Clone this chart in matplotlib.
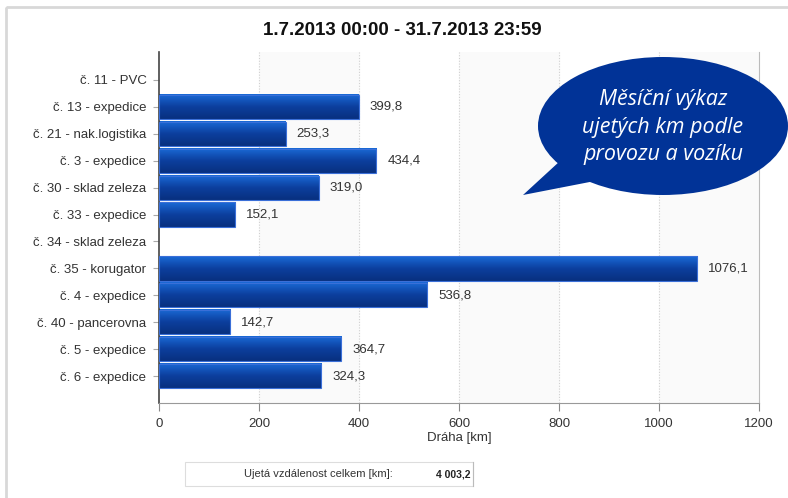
import matplotlib as mpl
import matplotlib.pyplot as plt
import numpy as np
from matplotlib.patches import Ellipse, Polygon, Rectangle

categories = [
    "č. 11 - PVC", "č. 13 - expedice", "č. 21 - nak.logistika", "č. 3 - expedice",
    "č. 30 - sklad zeleza", "č. 33 - expedice", "č. 34 - sklad zeleza",
    "č. 35 - korugator", "č. 4 - expedice", "č. 40 - pancerovna",
    "č. 5 - expedice", "č. 6 - expedice",
]
values = [0, 399.8, 253.3, 434.4, 319.0, 152.1, 0, 1076.1, 536.8, 142.7, 364.7, 324.3]
x_ticks = [0, 200, 400, 600, 800, 1000, 1200]
title = "1.7.2013 00:00 - 31.7.2013 23:59"
total_label = "Ujetá vzdálenost celkem [km]:"
total_value = "4 003,2"

mpl.rcParams["font.family"] = ["Liberation Sans", "DejaVu Sans"]

fig = plt.figure(figsize=(7.88, 4.98), dpi=100)
fig.patch.set_facecolor("white")

# outer frame
bg = fig.add_axes([0, 0, 1, 1], zorder=0)
bg.set_xlim(0, 788)
bg.set_ylim(498, 0)
bg.axis("off")
bg.add_patch(Rectangle((6, 7), 800, 500, fill=False, ec="#d8d8d8", lw=2))

ax = fig.add_axes([159 / 788, 1 - 403 / 498, 600 / 788, 351 / 498], zorder=1)
ax.set_facecolor("white")

# alternating light bands
for i in range(1, len(x_ticks) - 1, 2):
    ax.axvspan(x_ticks[i], x_ticks[i + 1], color="#fafafa", zorder=0)
for t in x_ticks[1:-1]:
    ax.axvline(t, color="#d0d0d0", lw=0.8, ls=(0, (1, 1.5)), zorder=0.5)

# gradient bars
grad = np.linspace(0, 1, 64).reshape(-1, 1)
cmap = mpl.colors.LinearSegmentedColormap.from_list("bar", ["#1a6ad6", "#0c3f9e", "#08307f"])
h = 0.9
for i, v in enumerate(values):
    if v <= 0:
        continue
    ax.imshow(grad, cmap=cmap, aspect="auto", extent=(0, v, i + h / 2, i - h / 2), zorder=2,
              interpolation="bilinear")
    ax.add_patch(Rectangle((0, i - h / 2), v, h, fill=False, ec="#3a6fd8", lw=0.8, zorder=3))
    ax.text(v + 22, i, f"{v:.1f}".replace(".", ","), va="center", ha="left",
            fontsize=9.5, color="#333333", zorder=4)
ax.set_xlim(0, 1200)
ax.set_ylim(11 + 1.0, -1.04)

ax.set_yticks(range(len(categories)))
ax.set_yticklabels(categories, fontsize=9.5, color="#333333")
ax.set_xticks(x_ticks)
ax.set_xticklabels([str(t) for t in x_ticks], fontsize=9.5, color="#333333")
ax.tick_params(axis="y", length=4, color="#aaaaaa", pad=5)
ax.tick_params(axis="x", length=6, color="#888888", pad=5)
ax.set_xlabel("Dráha [km]", fontsize=9.5, color="#333333", labelpad=1)
ax.spines["top"].set_visible(False)
ax.spines["left"].set_color("#444444")
ax.spines["left"].set_linewidth(1.2)
ax.spines["right"].set_color("#bbbbbb")
ax.spines["bottom"].set_color("#999999")

# overlay for title, bubble and total box
ov = fig.add_axes([0, 0, 1, 1], zorder=5)
ov.set_xlim(0, 788)
ov.set_ylim(498, 0)
ov.axis("off")
ov.text(402, 30, title, ha="center", va="center", fontsize=13.5, fontweight="bold", color="#111111")

blue = "#013397"
ov.add_patch(Polygon([(523, 195), (572, 150), (600, 180)], closed=True, fc=blue, ec="none"))
ov.add_patch(Ellipse((663, 126), 250, 138, fc=blue, ec="none"))
ov.text(663, 127, "Měsíční výkaz\nujetých km podle\nprovozu a vozíku", ha="center", va="center",
        color="white", fontsize=15.5, style="italic", family=["Open Sans", "DejaVu Sans"],
        linespacing=1.42)

ov.add_patch(Rectangle((185, 462), 288, 24, fc="white", ec="#dddddd", lw=0.8))
ov.plot([473, 473], [462, 486], color="#bbbbbb", lw=0.8)
ov.text(318, 474, total_label, ha="center", va="center", fontsize=8, color="#333333")
ov.text(471, 474, total_value, ha="right", va="center", fontsize=7.5, fontweight="bold", color="#222222")

fig.savefig("out.png", dpi=100)
